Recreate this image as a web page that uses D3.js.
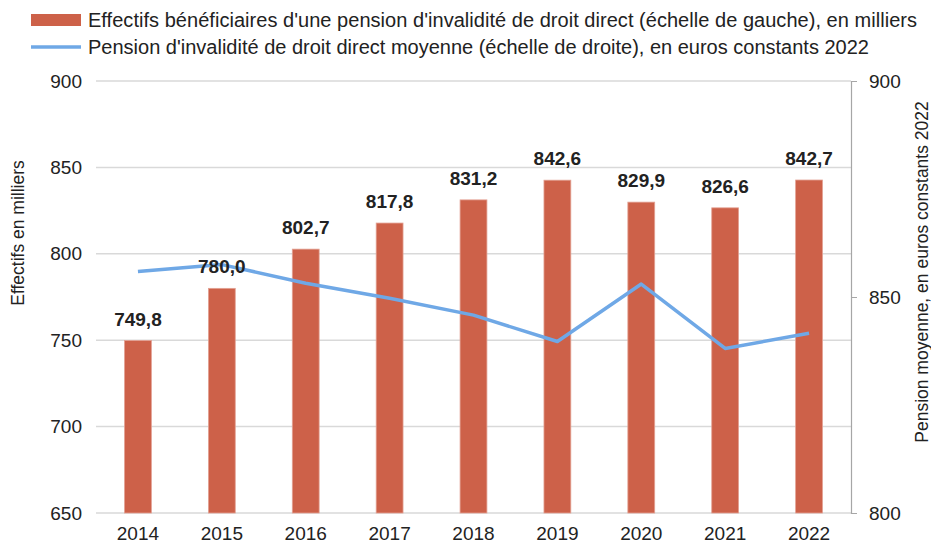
<!DOCTYPE html>
<html>
<head>
<meta charset="utf-8">
<script src="https://cdn.jsdelivr.net/npm/d3@7"></script>
<style>
  body { margin: 0; background: #fff; }
  text { font-family: "Liberation Sans", Arial, sans-serif; fill: #222; }
</style>
</head>
<body>
<div id="chart"></div>
<script>
var years = ["2014", "2015", "2016", "2017", "2018", "2019", "2020", "2021", "2022"];
var effectifs = [749.8, 780.0, 802.7, 817.8, 831.2, 842.6, 829.9, 826.6, 842.7];
var pension = [855.9, 857.5, 853.2, 849.7, 845.8, 839.7, 853.0, 838.1, 841.6];
var leftTicks = [650, 700, 750, 800, 850, 900];
var rightTicks = [800, 850, 900];

var width = 931, height = 545;
var margin = { top: 81, right: 80, bottom: 32, left: 96 };
var innerW = width - margin.left - margin.right;
var innerH = height - margin.top - margin.bottom;

var svg = d3.select("#chart").append("svg")
  .attr("width", width)
  .attr("height", height);

var g = svg.append("g")
  .attr("transform", "translate(" + margin.left + "," + margin.top + ")");

var x = d3.scaleBand().domain(years).range([0, innerW]).paddingInner(0.68).paddingOuter(0.34);
var yL = d3.scaleLinear().domain([650, 900]).range([innerH, 0]);
var yR = d3.scaleLinear().domain([800, 900]).range([innerH, 0]);

// gridlines
g.selectAll(".grid")
  .data(leftTicks)
  .enter().append("line")
  .attr("x1", 0).attr("x2", innerW)
  .attr("y1", d => yL(d)).attr("y2", d => yL(d))
  .attr("stroke", "#d9d9d9").attr("stroke-width", 1.5);

// bars
g.selectAll(".bar")
  .data(effectifs)
  .enter().append("rect")
  .attr("x", (d, i) => x(years[i]))
  .attr("width", x.bandwidth())
  .attr("y", d => yL(d))
  .attr("height", d => innerH - yL(d))
  .attr("fill", "#cd6149")
  .attr("stroke", "#e3a193").attr("stroke-width", 0.8);

// line
var line = d3.line()
  .x((d, i) => x(years[i]) + x.bandwidth() / 2)
  .y(d => yR(d));

g.append("path")
  .datum(pension)
  .attr("d", line)
  .attr("fill", "none")
  .attr("stroke", "#6fa8e6")
  .attr("stroke-width", 3.5)
  .attr("stroke-linejoin", "round");

// bar labels (drawn over the line)
g.selectAll(".lbl")
  .data(effectifs)
  .enter().append("text")
  .attr("x", (d, i) => x(years[i]) + x.bandwidth() / 2)
  .attr("y", d => yL(d) - 15)
  .attr("text-anchor", "middle")
  .style("font-size", "19px")
  .style("font-weight", "bold")
  .text(d => d.toFixed(1).replace(".", ","));

// left axis
var axL = g.append("g")
  .call(d3.axisLeft(yL).tickValues(leftTicks).tickSize(0).tickPadding(14));
axL.select(".domain").remove();
axL.selectAll("text").style("font-size", "19px").attr("fill", "#222");

// right axis
var axR = g.append("g")
  .attr("transform", "translate(" + innerW + ",0)")
  .call(d3.axisRight(yR).tickValues(rightTicks).tickSize(6).tickSizeOuter(6).tickPadding(12));
axR.select(".domain").attr("stroke", "#a6a6a6").attr("stroke-width", 1.2);
axR.selectAll(".tick line").attr("stroke", "#a6a6a6");
axR.selectAll("text").style("font-size", "19px").attr("fill", "#222");

// bottom axis
var axB = g.append("g")
  .attr("transform", "translate(0," + innerH + ")")
  .call(d3.axisBottom(x).tickSize(0).tickPadding(14));
axB.select(".domain").remove();
axB.selectAll("text").style("font-size", "19px").attr("fill", "#222");

// axis titles
svg.append("text")
  .attr("transform", "translate(24,233) rotate(-90)")
  .attr("text-anchor", "middle")
  .style("font-size", "17.5px")
  .text("Effectifs en milliers");

svg.append("text")
  .attr("transform", "translate(928,272) rotate(-90)")
  .attr("text-anchor", "middle")
  .style("font-size", "17.5px")
  .text("Pension moyenne, en euros constants 2022");

// legend
var legend = svg.append("g");
legend.append("rect")
  .attr("x", 31).attr("y", 14).attr("width", 50).attr("height", 12)
  .attr("fill", "#cd6149");
legend.append("text")
  .attr("x", 88).attr("y", 27)
  .style("font-size", "20px")
  .attr("textLength", 829)
  .text("Effectifs bénéficiaires d'une pension d'invalidité de droit direct (échelle de gauche), en milliers");
legend.append("line")
  .attr("x1", 31).attr("x2", 81).attr("y1", 47).attr("y2", 47)
  .attr("stroke", "#6fa8e6").attr("stroke-width", 3.5);
legend.append("text")
  .attr("x", 88).attr("y", 54)
  .style("font-size", "20px")
  .text("Pension d'invalidité de droit direct moyenne (échelle de droite), en euros constants 2022");
</script>
</body>
</html>
